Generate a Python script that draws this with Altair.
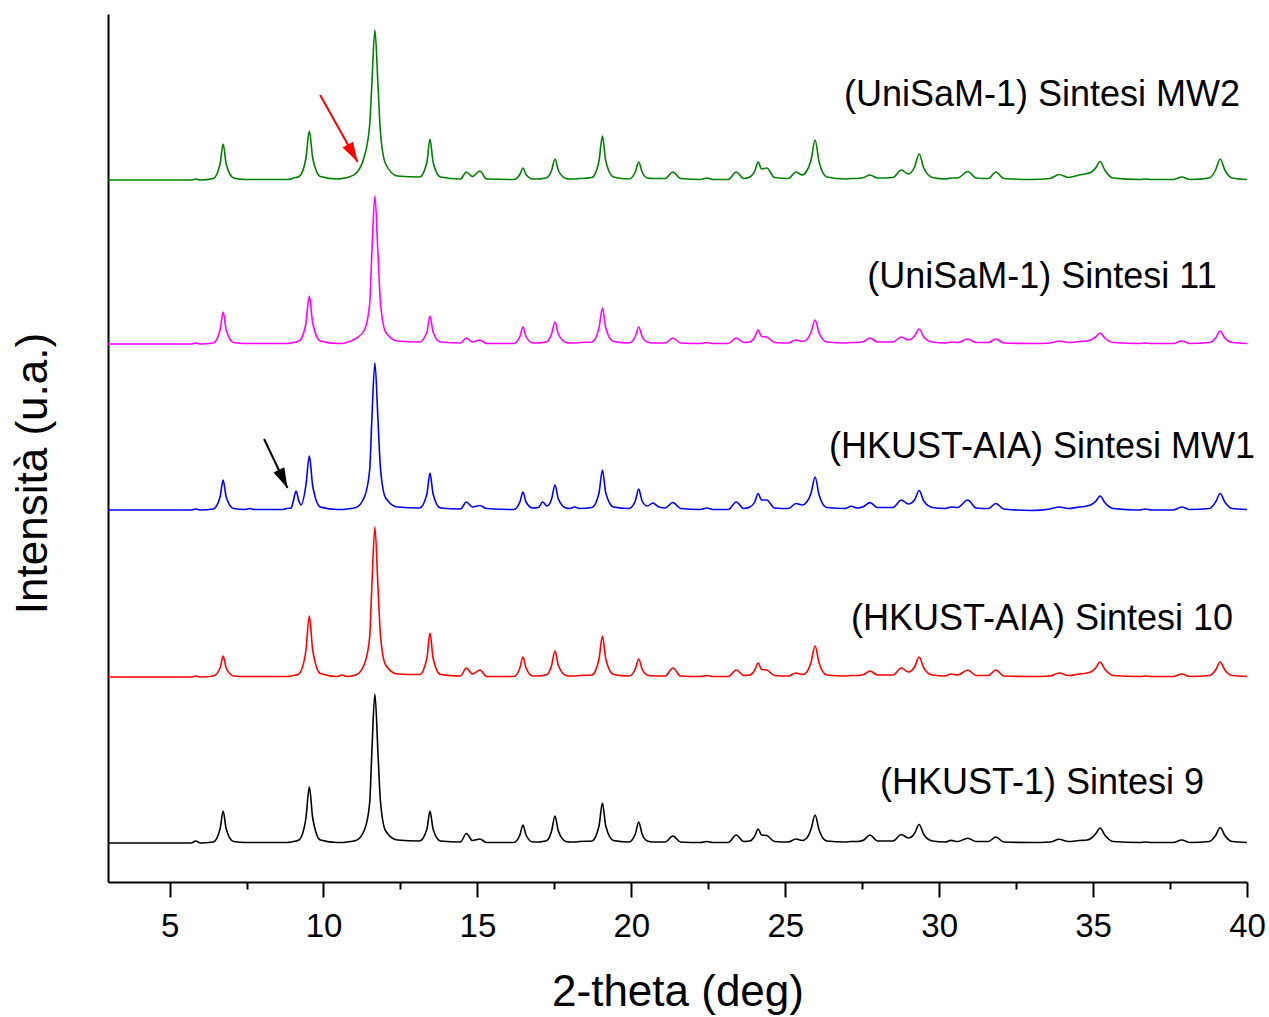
import altair as alt
import pandas as pd

FONT = "Liberation Sans"

# 2-theta positions (deg) of the traced points, grouped by peak
TWO_THETA = [
    [3.0, 5.7, 5.85, 6.0],
    [6.42, 6.64, 6.74, 6.84, 7.08],
    [7.45, 7.6, 7.75],
    [8.65, 8.8, 8.95],
    [9.02, 9.11, 9.2, 9.27, 9.43, 9.54, 9.65, 9.9],
    [10.45, 10.6, 10.75, 11.05, 11.33, 11.5, 11.57, 11.67, 11.77, 11.85, 12.02, 12.4],
    [13.12, 13.36, 13.46, 13.56, 13.8],
    [14.45, 14.64, 14.84, 15.08, 15.3],
    [16.18, 16.38, 16.48, 16.58, 16.8],
    [16.98, 17.12, 17.26, 17.41, 17.52, 17.63, 17.88],
    [18.0, 18.16, 18.32],
    [18.72, 18.95, 19.06, 19.17, 19.42],
    [19.92, 20.13, 20.24, 20.35, 20.52, 20.7, 20.9],
    [21.1, 21.35, 21.6],
    [22.25, 22.45, 22.65],
    [23.15, 23.41, 23.65],
    [23.85, 24.01, 24.12, 24.23, 24.4, 24.65],
    [25.1, 25.35, 25.55, 25.7, 25.84, 25.97, 26.1, 26.35],
    [26.95, 27.14, 27.35, 27.55, 27.75, 28.0],
    [28.5, 28.77, 29.0, 29.2, 29.35, 29.5, 29.78],
    [30.2, 30.38, 30.6, 30.93, 31.2],
    [31.6, 31.84, 32.1],
    [33.0, 33.6, 33.9, 34.2, 34.55, 34.8, 34.95, 35.08, 35.23, 35.38, 35.65],
    [36.5, 36.7, 36.9],
    [37.6, 37.88, 38.15],
    [38.78, 38.98, 39.13, 39.28, 39.52, 40.0],
]

# Intensity (u.a.) above each trace's own baseline
HKUST1_S9 = [
    [0, 0, 2, 0],
    [1, 14, 32, 14, 1.5],
    [0.5, 0.5, 0.5],
    [0.5, 0.5, 1],
    [1.5, 2, 3, 5.5, 25, 56, 25, 3],
    [0.5, 0.5, 1, 2.5, 13, 40, 90, 149, 90, 42, 12, 3],
    [2, 14, 32, 14, 2],
    [1, 9.5, 2.5, 4, 0.5],
    [0.5, 8, 18, 8, 1],
    [1, 1.5, 2.5, 12, 27, 12, 1.5],
    [1, 1, 1.5],
    [2, 17, 40, 17, 2.5],
    [1, 9, 21, 9, 2, 1, 1],
    [1, 7, 1],
    [0.5, 1.5, 0.5],
    [0.5, 8, 1.5],
    [2, 7, 14, 8, 7.5, 1.5],
    [1, 4, 2.5, 5, 14, 28, 13, 2],
    [1, 1.5, 1.5, 3, 8, 2],
    [2, 8.5, 5, 9.5, 18.5, 8.5, 2],
    [1, 2.6, 1.5, 4.8, 1.5],
    [1.5, 6, 1],
    [0.5, 1, 3.7, 1.5, 2.5, 3, 5, 9, 15, 8, 1.5],
    [0.5, 1, 0.5],
    [0.5, 3, 0.5],
    [1.5, 7.5, 15.5, 7.5, 1.5, 0.5],
]

HKUSTAIA_S10 = [
    [0, 0, 1, 0],
    [1, 9, 21, 9, 1],
    [0.5, 0.5, 0.5],
    [0.5, 0.5, 1],
    [1.5, 2, 3, 6, 27, 61, 27, 3.5],
    [0.5, 2, 0.5, 2, 13, 40, 90, 150, 90, 42, 12, 3],
    [2.5, 19, 44, 19, 2.5],
    [1, 9, 3, 7, 0.5],
    [0.5, 9, 20, 9, 1],
    [1, 1.5, 2.5, 11.5, 26, 11.5, 1.5],
    [1, 1, 1.5],
    [2, 18, 41, 18, 2.5],
    [1, 8, 18, 8, 2, 1, 1],
    [1, 9, 1],
    [0.5, 1.5, 0.5],
    [0.5, 7, 1.5],
    [2, 7, 14, 7.5, 7, 1.5],
    [1, 4, 2.5, 5, 15, 31, 14, 2],
    [1, 1.5, 1.5, 2.5, 6, 2],
    [2, 9, 5, 10, 20, 9, 2],
    [1, 3, 2, 7, 1.5],
    [1.5, 7, 1],
    [0.5, 1, 4, 1.5, 3, 4, 5.5, 9, 15, 8, 1.5],
    [0.5, 1, 0.5],
    [0.5, 3, 0.5],
    [1.5, 7, 15, 7, 1.5, 0.5],
]

HKUSTAIA_MW1 = [
    [0, 0, 1, 0],
    [1, 13, 30, 13, 1.5],
    [0.5, 1.5, 0.5],
    [0.5, 1.5, 2],
    [9, 19, 9, 5, 25, 54, 24, 3],
    [0.5, 0.5, 1, 2.5, 13, 40, 90, 147, 90, 42, 12, 3],
    [2, 16, 37, 16, 2],
    [1, 8, 3, 4.5, 1.5],
    [0.5, 8, 18, 8, 2],
    [2.5, 8, 4, 11, 25, 11, 2],
    [1.5, 3, 1.5],
    [2.5, 17, 40, 17, 3],
    [1.5, 9, 21, 9, 4, 7, 3],
    [2, 7.5, 1.5],
    [0.5, 2, 0.5],
    [0.5, 8, 1.5],
    [3, 8, 16.5, 10, 10, 2],
    [1.5, 6.5, 5, 8, 17, 33, 15, 2.5],
    [1.5, 3.7, 2, 3.5, 7.4, 2.5],
    [2.5, 10, 6, 10, 19.5, 9, 2.5],
    [1.5, 3, 2.5, 10, 2],
    [1.5, 6.5, 1],
    [-0.5, 1, 3, 1.5, 3, 4, 5.5, 8.5, 14, 7.5, 1.5],
    [0, 1, 0],
    [0, 3, 0.5],
    [1.5, 8, 16.5, 8, 1.5, 0.5],
]

UNISAM_S11 = [
    [0, 0, 1, 0],
    [1, 14, 32, 14, 1.5],
    [0.5, 0.5, 0.5],
    [0.5, 0.5, 1],
    [1.5, 2, 3, 5, 21, 48, 21, 3],
    [0.5, 0.5, 1.5, 5.5, 14, 40, 90, 148, 90, 42, 12, 3],
    [2, 12, 28, 12, 2],
    [1, 6, 2, 4, 0.5],
    [0.5, 7.5, 17, 7.5, 1],
    [1, 1.5, 2.5, 10, 22, 10, 1.5],
    [1, 1, 1.5],
    [2, 16, 36, 16, 2.5],
    [1, 7.5, 17, 7.5, 2, 1, 1],
    [1, 6, 1],
    [0.5, 1.5, 0.5],
    [0.5, 6, 1.5],
    [2, 7, 14, 7.5, 7, 1.5],
    [1, 4, 2.5, 4.5, 12, 24, 11, 2],
    [1, 1.5, 1.5, 2.5, 6, 2],
    [2, 7, 4, 8, 15, 7, 2],
    [1, 2, 1.5, 5, 1.5],
    [1.5, 5, 1],
    [0.5, 1, 3, 1.5, 2.5, 3, 4.5, 7, 11, 6, 1.5],
    [0.5, 1, 0.5],
    [0.5, 3, 0.5],
    [1.5, 6, 13, 6, 1.5, 0.5],
]

UNISAM_MW2 = [
    [0, 0, 1, 0],
    [1.5, 16, 36, 16, 2],
    [0.5, 0.5, 0.5],
    [0.5, 0.5, 1],
    [2, 2.5, 3.5, 5.5, 22, 49, 22, 3.5],
    [1, 1.5, 2.3, 6.5, 24, 55, 95, 150, 95, 48, 16, 4],
    [3, 18, 41, 18, 3],
    [1, 8, 3.5, 9, 1],
    [0.5, 5.5, 12, 5.5, 1],
    [1, 1.5, 2.5, 9.5, 21, 9.5, 1.5],
    [1, 1, 1.5],
    [2.5, 19, 44, 19, 3],
    [1, 8, 18, 8, 2, 1.5, 1.5],
    [1.5, 8, 1.5],
    [0.5, 2, 0.5],
    [0.5, 8, 1.5],
    [3, 9, 18, 11, 12, 2.5],
    [1.5, 8, 5, 9, 20, 40, 18, 3],
    [1, 1.5, 1.5, 2.5, 5, 2],
    [2.5, 10, 6, 13, 26, 12, 2.5],
    [1, 2, 2, 8.5, 2],
    [1.5, 8, 1.5],
    [0.5, 1.5, 5.5, 2.5, 5, 6.6, 8, 12, 18.5, 10, 2],
    [0.5, 1, 0.5],
    [0.5, 3, 0.5],
    [2, 10, 21, 10, 2, 0.5],
]

SERIES = [
    "(HKUST-1) Sintesi 9",
    "(HKUST-AIA) Sintesi 10",
    "(HKUST-AIA) Sintesi MW1",
    "(UniSaM-1) Sintesi 11",
    "(UniSaM-1) Sintesi MW2",
]
COLORS = ["#000000", "#ff0000", "#0000ff", "#ff00ff", "#008000"]
OFFSETS = [39, 205, 372, 538, 702]            # vertical stacking offsets (u.a.)
INTENSITIES = [HKUST1_S9, HKUSTAIA_S10, HKUSTAIA_MW1, UNISAM_S11, UNISAM_MW2]

LABEL_TWO_THETA = [33.34, 33.34, 33.34, 33.34, 33.34]
LABEL_COUNTS = [99, 263, 435, 605, 787]

ARROW_TAIL_X = [9.89, 8.07]
ARROW_TAIL_Y = [787, 443]
ARROW_TIP_X = [11.11, 8.83]
ARROW_TIP_Y = [720, 394]
ARROW_ANGLE = [330.5, 334.6]
ARROW_COLOR = ["#ff0000", "#000000"]

X_TICKS = [5, 7.5, 10, 12.5, 15, 17.5, 20, 22.5, 25, 27.5, 30, 32.5, 35, 37.5, 40]

# ---- build tables ----
rows = []
for name, off, groups in zip(SERIES, OFFSETS, INTENSITIES):
    assert len(groups) == len(TWO_THETA), name
    i = 0
    for gx, gy in zip(TWO_THETA, groups):
        assert len(gx) == len(gy), (name, gx)
        for x, y in zip(gx, gy):
            rows.append({"two_theta": x, "counts": y + off, "series": name, "order": i})
            i += 1
df = pd.DataFrame(rows)

labels_df = pd.DataFrame({"two_theta": LABEL_TWO_THETA, "counts": LABEL_COUNTS, "name": SERIES})
arrows_df = pd.DataFrame({
    "two_theta": ARROW_TAIL_X, "counts": ARROW_TAIL_Y,
    "x_tip": ARROW_TIP_X, "y_tip": ARROW_TIP_Y,
    "angle": ARROW_ANGLE, "color": ARROW_COLOR,
})
heads_df = pd.DataFrame({
    "two_theta": ARROW_TIP_X, "counts": ARROW_TIP_Y,
    "angle": ARROW_ANGLE, "color": ARROW_COLOR,
})

x_scale = alt.Scale(domain=[3, 40], nice=False, zero=False)
y_scale = alt.Scale(domain=[0, 868], nice=False, zero=False)

x_axis = alt.Axis(
    values=X_TICKS,
    labelExpr="datum.value % 5 === 0 ? datum.label : ''",
    tickSize={"condition": {"test": "datum.value % 5 === 0", "value": 15}, "value": 7},
    tickWidth=2, tickColor="black",
    domainWidth=2, domainColor="black",
    labelFont=FONT, labelFontSize=33, labelColor="black", labelPadding=13,
    labelFlush=False, labelOverlap=False,
    grid=False,
    title="2-theta (deg)", titleFont=FONT, titleFontSize=44, titleFontWeight="normal",
    titleColor="black", titleBaseline="alphabetic", titleY=123,
)
y_axis = alt.Axis(
    ticks=False, labels=False, grid=False,
    domainWidth=2, domainColor="black",
    title="Intensità (u.a.)", titleFont=FONT, titleFontSize=44, titleFontWeight="normal",
    titleColor="black", titleAngle=270, titleBaseline="alphabetic",
    titleAlign="center", titleX=-62, titleY=459,
)


def X(field="two_theta"):
    return alt.X(f"{field}:Q", scale=x_scale, axis=x_axis)


def Y(field="counts"):
    return alt.Y(f"{field}:Q", scale=y_scale, axis=y_axis)


lines = alt.Chart(df).mark_line(interpolate="monotone", strokeWidth=1.6).encode(
    x=X(), y=Y(),
    color=alt.Color("series:N", scale=alt.Scale(domain=SERIES, range=COLORS), legend=None),
    order=alt.Order("order:Q"),
)

texts = alt.Chart(labels_df).mark_text(
    font=FONT, fontSize=36, align="center", baseline="middle", color="black"
).encode(x=X(), y=Y(), text="name:N")

shafts = alt.Chart(arrows_df).mark_rule(strokeWidth=2).encode(
    x=X(), y=Y(), x2=alt.X2("x_tip"), y2=alt.Y2("y_tip"),
    color=alt.Color("color:N", scale=None),
)

heads = alt.Chart(heads_df).mark_point(
    shape="M 0 0 L -0.6 -2 L 0.6 -2 Z", filled=True, size=400, opacity=1, strokeWidth=0
).encode(
    x=X(), y=Y(),
    angle=alt.Angle("angle:Q", scale=None),
    color=alt.Color("color:N", scale=None),
)

chart = alt.layer(lines, texts, shafts, heads).properties(
    width=1139, height=868,
    padding={"left": 108, "top": 14, "right": 22, "bottom": 135},
    autosize=alt.AutoSizeParams(type="none"),
    background="white",
).configure_view(strokeWidth=0)

chart.save("out.html", embed_options={"renderer": "svg", "actions": False})
